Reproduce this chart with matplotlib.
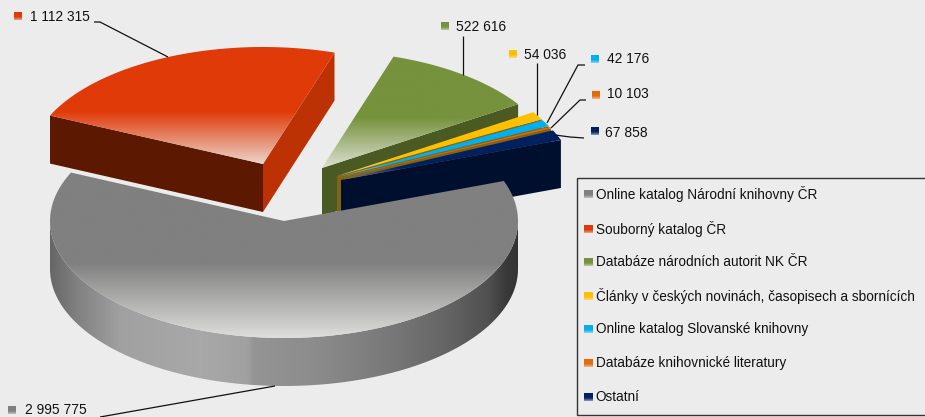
import numpy as np
import matplotlib
matplotlib.use("Agg")
import matplotlib.pyplot as plt
from matplotlib.patches import Polygon, Rectangle
from matplotlib.colors import to_rgb

categories = ["Online katalog Národní knihovny ČR", "Souborný katalog ČR", "Databáze národních autorit NK ČR",
              "Články v českých novinách, časopisech a sbornících", "Online katalog Slovanské knihovny",
              "Databáze knihovnické literatury", "Ostatní"]
values = [2995775, 1112315, 522616, 54036, 42176, 10103, 67858]
colors = ["#808080", "#E03A08", "#76923C", "#FFC000", "#00B0F0", "#E36C0A", "#002060"]
cut_colors = ["#606060", "#5C1800", "#4A5A22", "#806418", "#806418", "#806418", "#000F2E"]
apex_x = [284, 263, 322, 337, 338, 339, 341]
apex_y = [221, 164, 168, 176, 177, 178, 180]
label_key = [(8, 406), (14, 12), (441, 22), (509, 50), (591, 55), (592, 91), (591, 127)]
label_text = [(25, 410.5), (30, 17), (456, 27), (524, 55), (607, 59), (607, 94), (605, 133)]
leaders = [[(100, 417), (275, 386)], [(94, 22), (100, 22), (168, 57)], [(463, 36), (463, 75)],
           [(537, 63), (537, 115)], [(585, 65), (578, 65), (547, 123)], [(586, 100), (580, 100), (551, 128)],
           [(584, 138), (570, 137), (555, 135)]]
legend_y = [194.3, 228.7, 262.3, 295.7, 329.3, 363.3, 397.3]
start_angle = 20.0
rx, ry, depth = 234.0, 117.0, 48.0
BG = "#ECECEC"

fig = plt.figure(figsize=(9.25, 4.17), dpi=100, facecolor=BG)
ax = fig.add_axes([0, 0, 1, 1])
ax.set_axis_off()
plt.rcParams['font.family'] = ['Liberation Sans', 'DejaVu Sans']


def clipped_image(pts, img, extent, z):
    poly = Polygon(pts, closed=True, transform=ax.transData, fc="none", ec="none")
    ax.add_patch(poly)
    im = ax.imshow(img, extent=extent, aspect="auto", zorder=z, interpolation="bilinear")
    im.set_clip_path(poly)


def fade_image(col, solid=0.55, end=0.86):
    c = np.array(to_rgb(col))
    light = np.array(to_rgb("#EDEDEA"))
    t = np.linspace(0, 1, 200)
    w = np.clip((t - solid) / (1 - solid), 0, 1) * end
    return (c[None, :] * (1 - w[:, None]) + light[None, :] * w[:, None])[:, None, :]


def arc(cx, cy, a1, a2, n=120):
    a = np.radians(np.linspace(a1, a2, n))
    return np.column_stack([cx + rx * np.cos(a), cy - ry * np.sin(a)])


fractions = np.array(values) / sum(values) * 360.0
starts = start_angle - np.concatenate([[0], np.cumsum(fractions)[:-1]])
ends = starts - fractions

# draw from the back: small slices, green, gray, red
order = [2, 3, 4, 5, 6, 0, 1]
z = 2
for i in order:
    cx, cy = apex_x[i], apex_y[i]
    a1, a2 = starts[i], ends[i]
    outer = arc(cx, cy, a1, a2)
    top = np.vstack([[cx, cy], outer])
    if i == 1:
        # both cut faces of the red slice are visible
        st_pt = outer[0]
        ax.add_patch(Polygon([(cx, cy), st_pt, st_pt + [0, depth], (cx, cy + depth)], fc=cut_colors[i], ec="none", zorder=z))
        end_pt = outer[-1]
        ax.add_patch(Polygon([(cx, cy), end_pt, end_pt + [0, depth], (cx, cy + depth)], fc="#BC3204", ec="none", zorder=z))
    elif i != 0:
        # cut face on the clockwise side
        end_pt = outer[-1]
        ax.add_patch(Polygon([(cx, cy), end_pt, end_pt + [0, depth], (cx, cy + depth)], fc=cut_colors[i], ec="none", zorder=z))
    else:
        rim = arc(cx, cy, -180, 0)
        wall = np.vstack([rim, (rim + [0, depth])[::-1]])
        xs = [50, 75, 120, 200, 248, 254, 315, 400, 450, 490, 508, 518]
        gs = [0.40, 0.50, 0.63, 0.66, 0.63, 0.58, 0.55, 0.46, 0.39, 0.31, 0.22, 0.20]
        gx = np.linspace(50, 518, 468)
        g = np.interp(gx, xs, gs)
        clipped_image(wall, np.repeat(g[None, :, None], 3, axis=2),
                      [50, 518, cy + ry + depth + 1, cy - 1], z)
    y0, y1 = top[:, 1].min(), top[:, 1].max()
    x0, x1 = top[:, 0].min(), top[:, 0].max()
    small = i >= 3
    clipped_image(top, fade_image(colors[i], 0.75 if small else 0.55, 0.5 if small else 0.86),
                  [x0, x1, y1, y0], z + 0.5)
    z += 1

for i, (v, c) in enumerate(zip(values, colors)):
    kx, ky = label_key[i]
    ax.imshow(fade_image(c, 0.6, 0.6), extent=[kx, kx + 8, ky + 8, ky], aspect="auto", zorder=20)
    tx, ty = label_text[i]
    ax.text(tx, ty, f"{v:,}".replace(",", " "), fontsize=9.9, va="center", ha="left", color="#111111", zorder=21)
    p = np.array(leaders[i])
    ax.plot(p[:, 0], p[:, 1], color="#111111", lw=0.9, zorder=19, solid_capstyle="butt")

ax.add_patch(Rectangle((576.5, 177.5), 360, 237, fc="none", ec="#333333", lw=1, zorder=20))
for name, c, y in zip(categories, colors, legend_y):
    ax.imshow(fade_image(c, 0.6, 0.6), extent=[584, 593, y + 4, y - 4], aspect="auto", zorder=21)
    ax.text(595.5, y, name, fontsize=9.85, va="center", ha="left", color="#111111", zorder=21)

ax.set_xlim(0, 925)
ax.set_ylim(417, 0)
fig.savefig("out.png", dpi=100, facecolor=BG)
